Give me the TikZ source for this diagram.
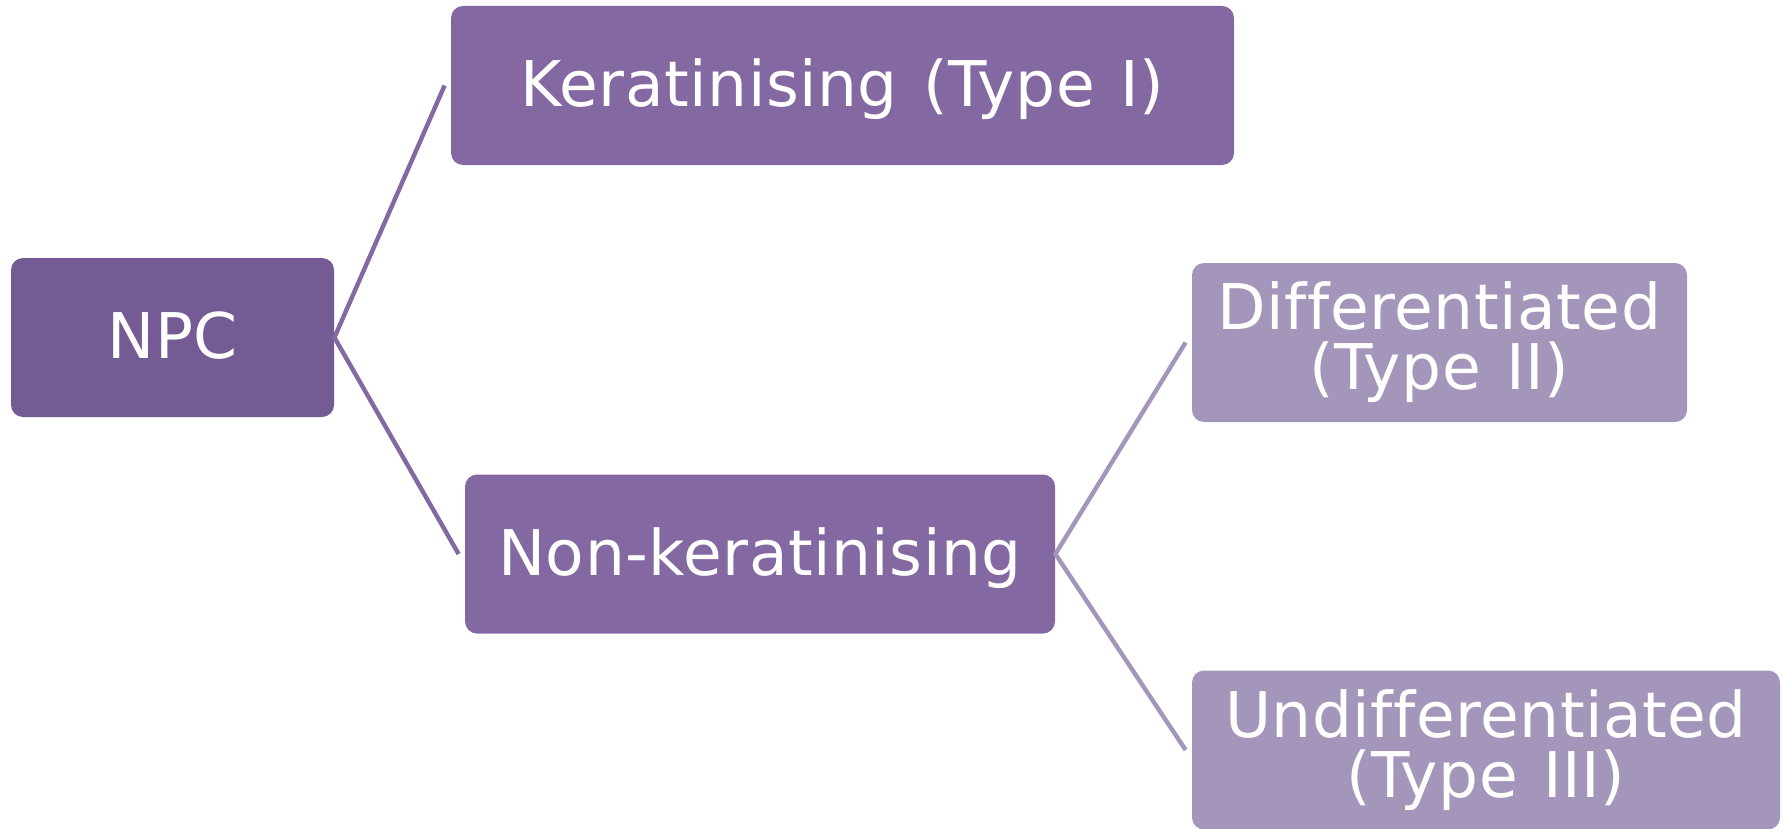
\documentclass[tikz,border=0pt]{standalone}
\usepackage{fontspec}
\setmainfont[LetterSpace=0.8,WordSpace=1.25,Ligatures=NoCommon]{DejaVu Sans}
\usepackage{tikz}
\usetikzlibrary{positioning}

\definecolor{npcdark}{HTML}{745B93}
\definecolor{npcmid}{HTML}{8468A2}
\definecolor{npclight}{HTML}{A496BA}

\begin{document}
\begin{tikzpicture}[x=0.5pt,y=-0.5pt,
    box/.style={rounded corners=6pt, inner sep=0pt, text=white, align=center,
      font=\fontsize{31.5}{30}\selectfont, minimum height=79.5pt},
    oneline/.style={text height=21.4pt, text depth=0pt},
    link/.style={line width=2.2pt}]
  \useasboundingbox (0,0) rectangle (1783,829);
  % boxes
  \node[box, oneline, fill=npcdark, minimum width=161.5pt] (npc) at (172.5,337.5) {NPC};
  \node[box, oneline, fill=npcmid, minimum width=391.5pt] (ker) at (842.5,85.5) {Keratinising (Type I)};
  \node[box, oneline, fill=npcmid, minimum width=295pt] (nonker) at (760,554) {Non-keratinising};
  \node[box, fill=npclight, minimum width=247.5pt] (diff) at (1439.5,342.5) {Differentiated\\(Type II)};
  \node[box, fill=npclight, minimum width=294pt] (undiff) at (1486,750) {Undifferentiated\\(Type III)};
  % connectors
  \draw[link, npcmid] ([xshift=-3pt]ker.west) -- (npc.east) -- ([xshift=-3pt]nonker.west);
  \draw[link, npclight] ([xshift=-3pt]diff.west) -- (nonker.east) -- ([xshift=-3pt]undiff.west);
\end{tikzpicture}
\end{document}
